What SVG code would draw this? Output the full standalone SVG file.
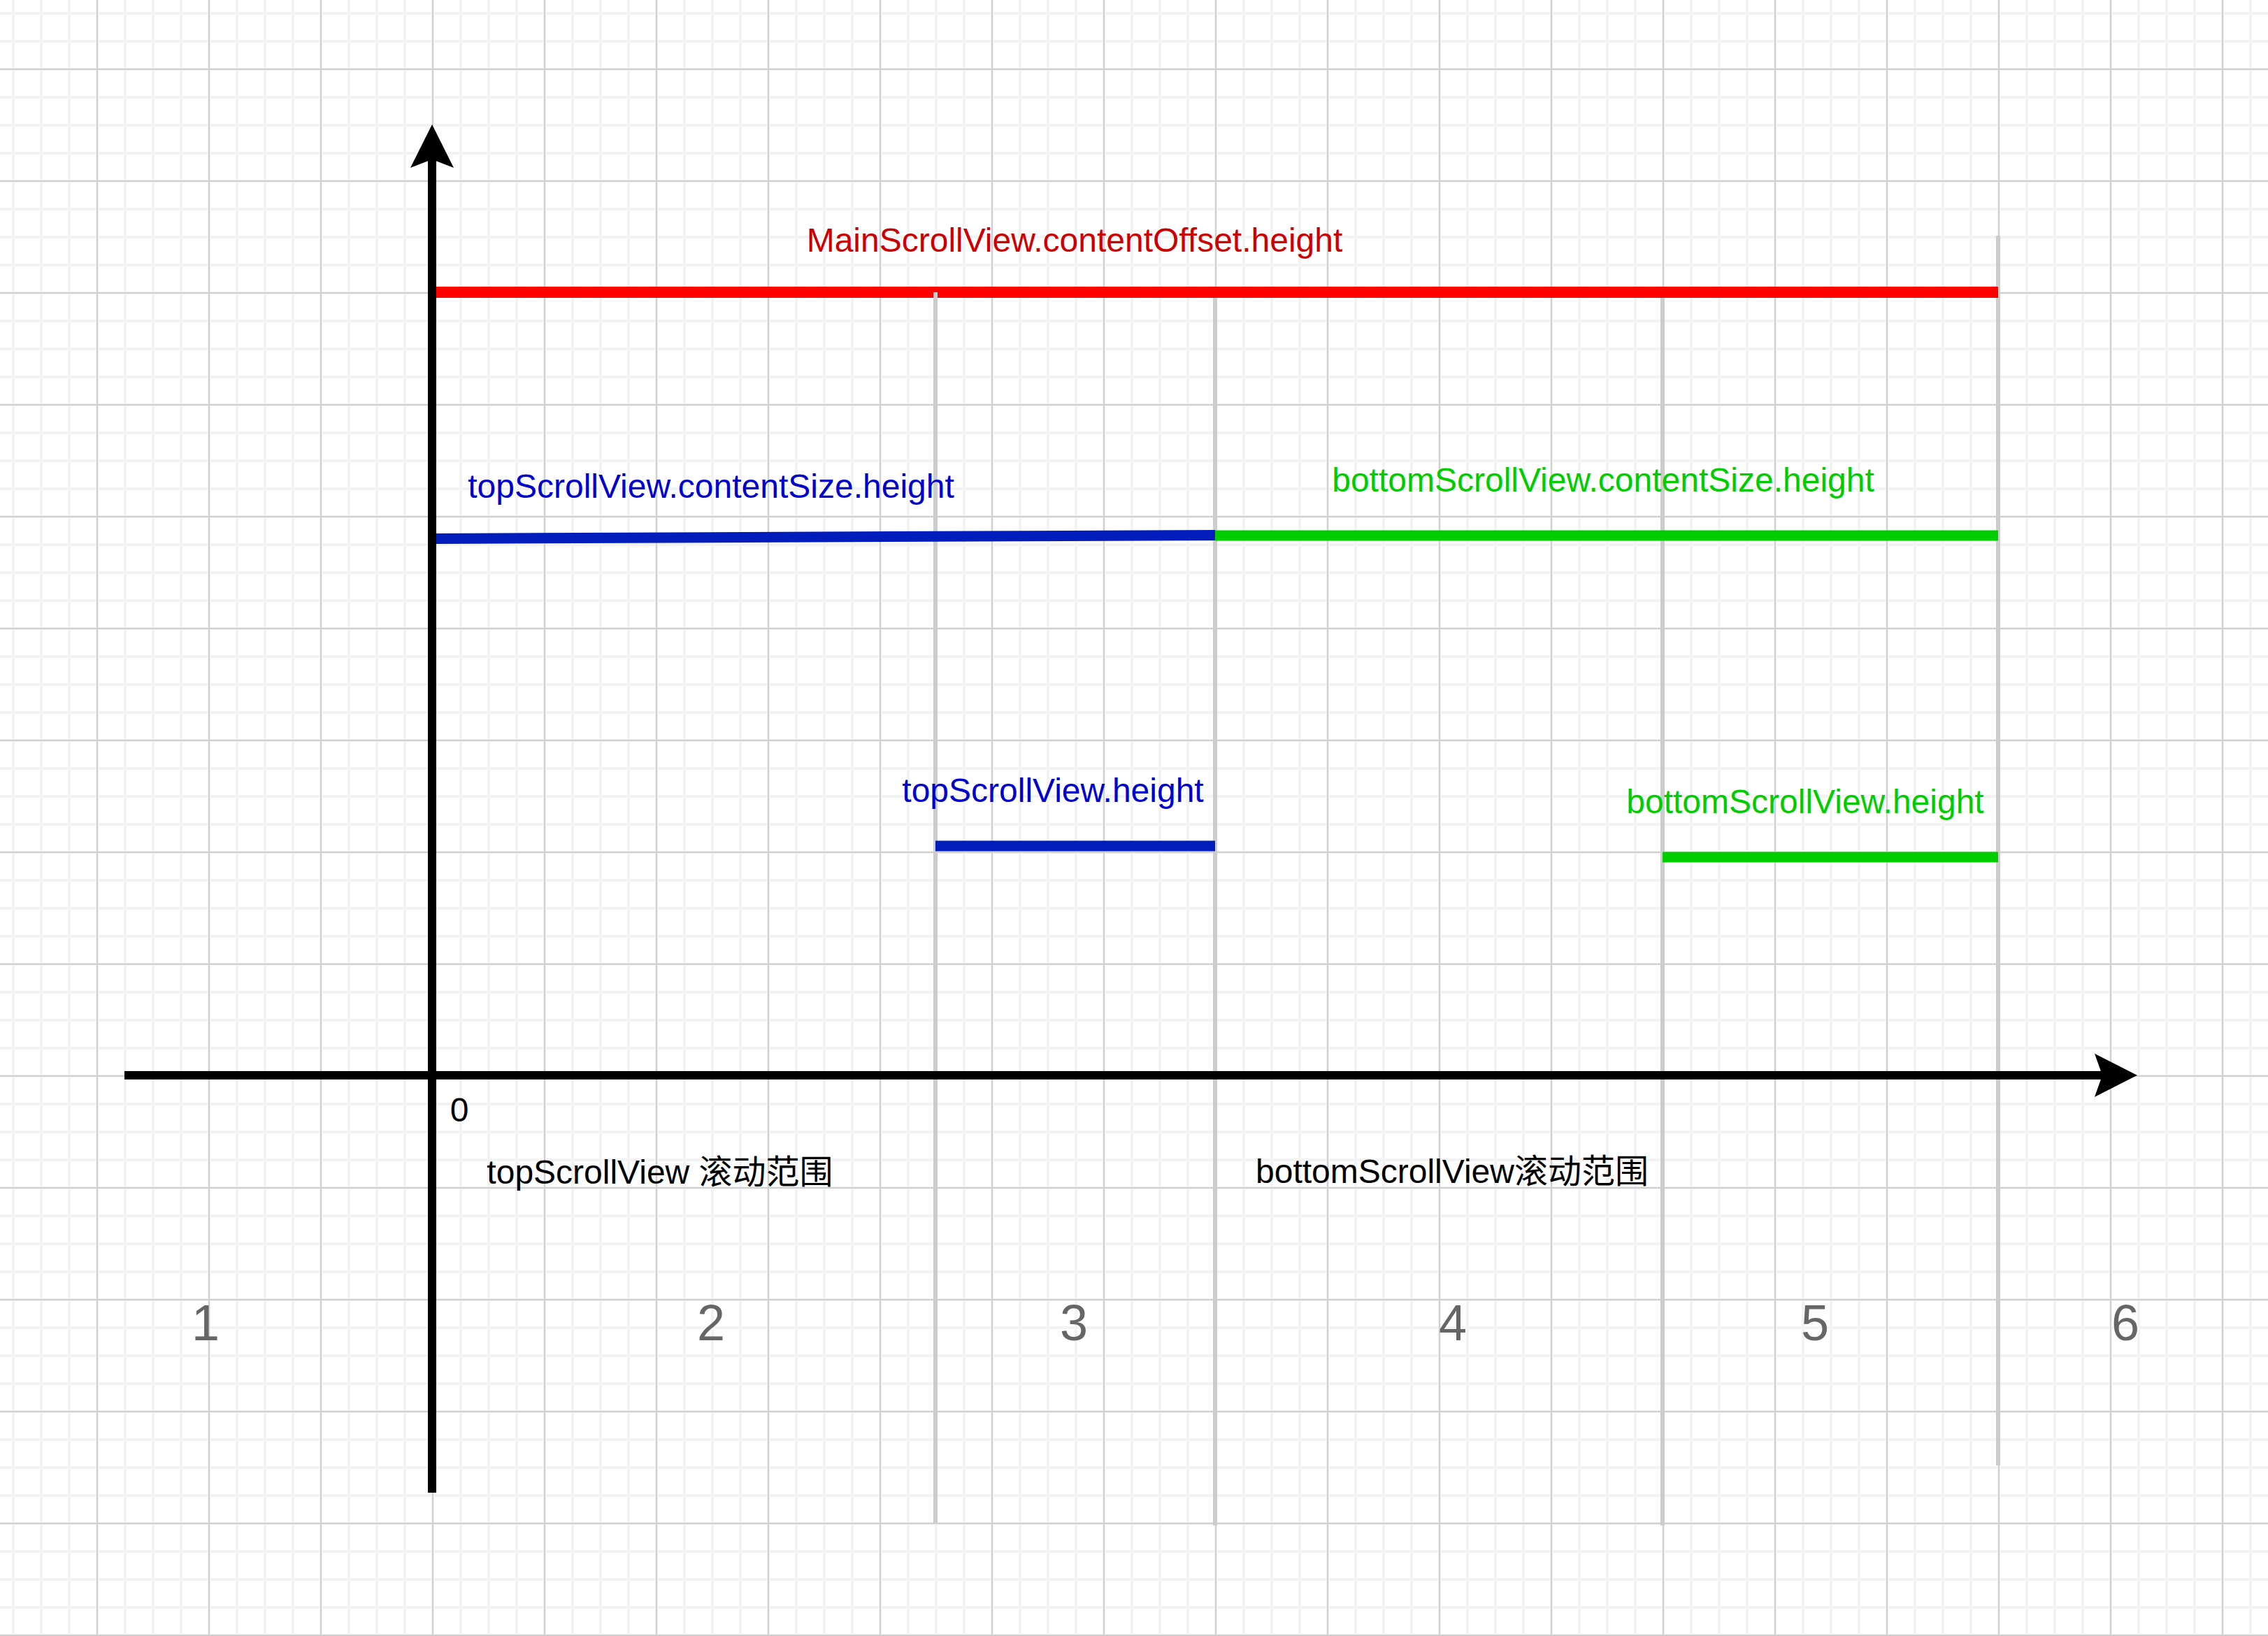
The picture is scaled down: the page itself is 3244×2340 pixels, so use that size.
<svg xmlns="http://www.w3.org/2000/svg" width="3244" height="2340" viewBox="0 0 3244 2340">
<style>
.t{font-family:"Liberation Sans",Arial,"Noto Sans CJK SC",sans-serif;font-size:48px;text-anchor:middle}
.num{font-family:"Liberation Sans",Arial,sans-serif;font-size:72px;text-anchor:middle;fill:#666666}
.guide{stroke:#CCCCCC;stroke-width:6;fill:none}
.axis{stroke:#000000;stroke-width:12;fill:none}
</style>
<defs>
<pattern id="grid" patternUnits="userSpaceOnUse" x="0" y="0" width="160" height="160">
<path d="M19 0V160M59 0V160M99 0V160M139 0V160M0 19H160M0 59H160M0 99H160M0 139H160" stroke="#f3f3f3" stroke-width="4" fill="none"/>
<path d="M139 0V160M0 99H160" stroke="#d0d0d0" stroke-width="2" fill="none"/>
</pattern>
</defs>
<rect width="3244" height="2340" fill="#ffffff"/>
<rect width="3244" height="2340" fill="url(#grid)"/>
<g id="connectors">
<line class="guide" x1="1738" y1="420" x2="1738" y2="2182"/>
<line class="guide" x1="2378" y1="420" x2="2378" y2="2182"/>
<line class="guide" x1="2858" y1="337" x2="2858" y2="2096"/>
<line x1="618" y1="418" x2="2858" y2="418" stroke="#FF0000" stroke-width="16"/>
<line class="guide" x1="1338" y1="418" x2="1338" y2="2178"/>
<line x1="618" y1="770.5" x2="1738" y2="765.5" stroke="#001DBC" stroke-width="15"/>
<line x1="1738" y1="766" x2="2858" y2="766" stroke="#00CC00" stroke-width="15"/>
<line x1="1338" y1="1210" x2="1738" y2="1210" stroke="#001DBC" stroke-width="15"/>
<line x1="2378" y1="1226" x2="2858" y2="1226" stroke="#00CC00" stroke-width="15"/>
<line class="axis" x1="618" y1="2135" x2="618" y2="226"/>
<path d="M618 178L649 240L618 228L587 240Z" fill="#000000"/>
<line class="axis" x1="178" y1="1538" x2="3009" y2="1538"/>
<path d="M3057 1538L2996 1569L3007 1538L2996 1507Z" fill="#000000"/>
</g>
<g id="label-main-offset"><text class="t" x="1537" y="360" fill="#CC0000">MainScrollView.contentOffset.height</text></g>
<g id="label-top-content"><text class="t" x="1017" y="712" fill="#0000CC">topScrollView.contentSize.height</text></g>
<g id="label-bottom-content"><text class="t" x="2293" y="703" fill="#00CC00">bottomScrollView.contentSize.height</text></g>
<g id="label-top-height"><text class="t" x="1506" y="1147" fill="#0000CC">topScrollView.height</text></g>
<g id="label-bottom-height"><text class="t" x="2582" y="1163" fill="#00CC00">bottomScrollView.height</text></g>
<g id="label-zero"><text class="t" x="657" y="1604" fill="#000000">0</text></g>
<g id="label-top-range"><text class="t" x="944" y="1693" fill="#000000">topScrollView 滚动范围</text></g>
<g id="label-bottom-range"><text class="t" x="2077" y="1692" fill="#000000">bottomScrollView滚动范围</text></g>
<g id="num-1"><text class="num" x="294" y="1917">1</text></g>
<g id="num-2"><text class="num" x="1017" y="1917">2</text></g>
<g id="num-3"><text class="num" x="1536" y="1917">3</text></g>
<g id="num-4"><text class="num" x="2078" y="1917">4</text></g>
<g id="num-5"><text class="num" x="2596" y="1917">5</text></g>
<g id="num-6"><text class="num" x="3040" y="1917">6</text></g>
</svg>
